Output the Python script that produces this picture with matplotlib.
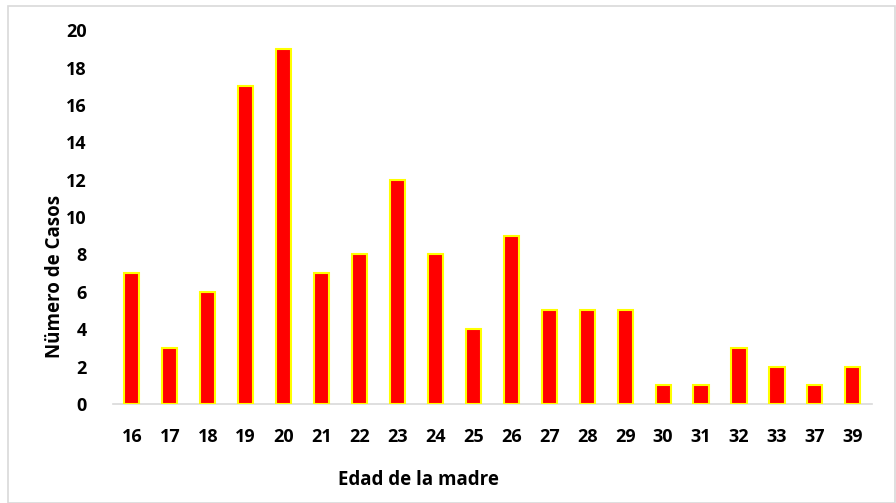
import matplotlib
matplotlib.use("Agg")
import matplotlib.pyplot as plt
from matplotlib.patches import Rectangle

edades = ["16", "17", "18", "19", "20", "21", "22", "23", "24", "25",
          "26", "27", "28", "29", "30", "31", "32", "33", "37", "39"]
casos = [7, 3, 6, 17, 19, 7, 8, 12, 8, 4, 9, 5, 5, 5, 1, 1, 3, 2, 1, 2]
yticks = [0, 2, 4, 6, 8, 10, 12, 14, 16, 18, 20]

plt.rcParams['font.family'] = ['Open Sans', 'DejaVu Sans']
plt.rcParams['font.weight'] = 'bold'

fig = plt.figure(figsize=(8.96, 5.03), dpi=100)
ax = fig.add_axes([0.126, 0.197, 0.847, 0.743])

x = range(len(edades))
ax.bar(x, casos, width=0.4, color='#ff0000', edgecolor='#ffff00', linewidth=1.5, zorder=3)

ax.set_xlim(-0.5, len(edades) - 0.5)
ax.set_ylim(0, 20)
ax.set_xticks(list(x))
ax.set_xticklabels(edades, fontsize=13, fontweight='bold')
ax.set_yticks(yticks)
ax.set_yticklabels([str(v) for v in yticks], fontsize=13, fontweight='bold')
ax.tick_params(axis='x', length=0, pad=17)
ax.tick_params(axis='y', length=0, pad=19)

for s in ['top', 'right', 'left']:
    ax.spines[s].set_visible(False)
ax.spines['bottom'].set_color('#d9d9d9')
ax.spines['bottom'].set_linewidth(1.2)

# etiquetas de ejes (posicion como en el original)
ax.set_xlabel('Edad de la madre', fontsize=13.5, fontweight='bold', va='center')
ax.xaxis.set_label_coords(0.402, -0.203)
ax.set_ylabel('Nümero de Casos', fontsize=13.5, fontweight='bold', va='center')
ax.yaxis.set_label_coords(-0.0764, 0.342)

fig.patches.append(Rectangle((8 / 896, 0), 1 - 8 / 896 - 0.001, 1 - 6 / 503,
                             transform=fig.transFigure, fill=False,
                             edgecolor='#d9d9d9', linewidth=1.2))

fig.savefig("out.png", dpi=100)
